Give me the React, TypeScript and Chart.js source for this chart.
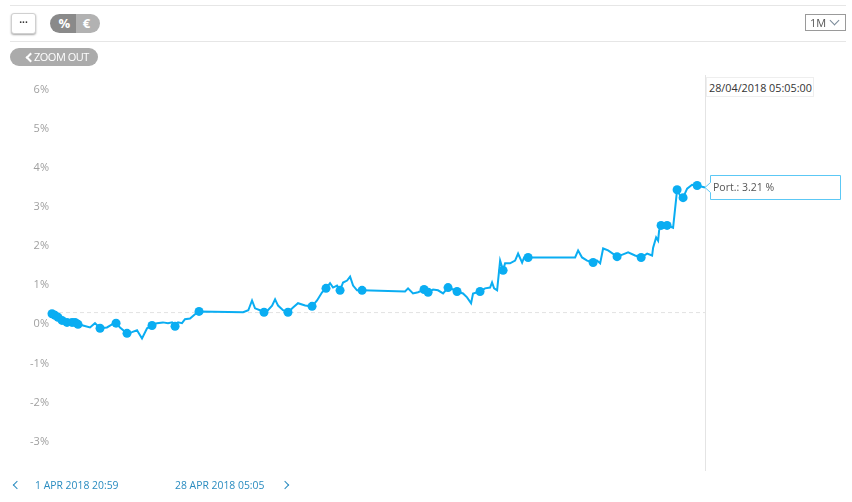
import React, { useEffect, useRef } from "react";
import { Chart, registerables } from "chart.js";

Chart.register(...registerables);

// hours since 1 Apr 2018 20:59
const hours = [
  0, 2.9, 5.8, 9.7, 14.5, 19.4, 22.3, 25.2, 30, 36.8, 41.6, 46.5, 53.2, 58.1, 62, 65.8, 72.6, 77.4, 82.3, 87.1,
  92, 96.8, 101.6, 107.4, 112.3, 116.2, 119.1, 122, 125.8, 128.7, 133.6, 138.4, 142.3, 185, 190, 193.6, 196.5,
  201.3, 205.2, 209, 213, 215.9, 218.8, 223.6, 228.4, 233.3, 238.1, 245, 251.7, 256.5, 261.4, 265.2, 269.1, 272,
  275.9, 278.8, 281.7, 285.6, 288.5, 291.4, 295.2, 300.1, 341.7, 344.6, 349.4, 354.3, 360.1, 364, 368.8, 373.6,
  378.5, 383.3, 388.2, 392, 397.8, 401.7, 405.6, 407.5, 414.3, 419.1, 424, 425.9, 427.9, 430.8, 433.7, 436.6,
  438.5, 443.3, 448.2, 451.1, 455, 456.9, 460.8, 503.4, 506.3, 509.2, 513, 517.9, 523.7, 527.6, 530.5, 533.4,
  538.2, 546.9, 552.7, 557.6, 564.3, 570.2, 576, 580.8, 581.8, 584.7, 586.6, 587.6, 589.5, 595.3, 601.1, 605,
  607.9, 610.8, 614.7, 619.5, 624.4, 632,
];

// portfolio performance, %
const values = [
  0.27, 0.23, 0.18, 0.1, 0.05, 0.05, 0.05, 0.0, -0.03, -0.08, 0.03, -0.1, -0.08, 0.0, 0.03, -0.08, -0.23, -0.2,
  -0.15, -0.36, -0.1, -0.03, 0.03, 0.05, 0.03, 0.05, -0.05, 0.05, 0.03, 0.13, 0.15, 0.26, 0.33, 0.31, 0.36, 0.61,
  0.41, 0.36, 0.31, 0.36, 0.48, 0.64, 0.48, 0.36, 0.31, 0.43, 0.54, 0.48, 0.46, 0.61, 0.82, 0.92, 1.05, 0.94,
  0.99, 0.87, 1.07, 1.12, 1.22, 0.99, 0.87, 0.87, 0.84, 0.92, 0.79, 0.82, 0.89, 0.82, 0.89, 0.87, 0.79, 0.94,
  0.89, 0.84, 0.79, 0.69, 0.54, 0.79, 0.84, 0.92, 0.94, 1.07, 0.92, 0.87, 1.63, 1.38, 1.56, 1.56, 1.63, 1.81,
  1.58, 1.71, 1.71, 1.71, 1.71, 1.89, 1.71, 1.63, 1.58, 1.63, 1.56, 1.94, 1.89, 1.73, 1.79, 1.84, 1.76, 1.71,
  1.81, 1.76, 1.96, 2.22, 2.14, 2.4, 2.53, 2.53, 2.47, 3.44, 3.29, 3.24, 3.47, 3.57, 3.55, 3.5,
];

// 1 = transaction marker on this point
const markers = [
  1, 1, 1, 1, 1, 1, 1, 1, 0, 0, 0, 1, 0, 0, 1, 0, 1, 0, 0, 0, 0, 1, 0, 0, 0, 0, 1, 0, 0, 0, 0, 0, 1, 0, 0, 0, 0,
  0, 1, 0, 0, 0, 0, 0, 1, 0, 0, 0, 1, 0, 0, 1, 0, 0, 0, 1, 0, 0, 0, 0, 0, 1, 0, 0, 0, 0, 1, 1, 0, 0, 0, 1, 0, 1,
  0, 0, 0, 0, 1, 0, 0, 0, 0, 0, 0, 1, 0, 0, 0, 0, 0, 0, 1, 0, 0, 0, 0, 0, 1, 0, 0, 0, 0, 1, 0, 0, 0, 1, 0, 0, 0,
  0, 0, 0, 1, 1, 0, 1, 0, 1, 0, 0, 1, 0,
];

const yTickValues = [-3, -2, -1, 0, 1, 2, 3, 4, 5, 6];
const baselineValue = 0.3;
const xMin = 0;
const xMax = 632;
const yMin = -3.75;
const yMax = 6.35;

const tooltipText = "Port.: 3.21 %";
const crosshairDate = "28/04/2018 05:05:00";
const startLabel = "1 APR 2018 20:59";
const endLabel = "28 APR 2018 05:05";

const LINE = "#0aadf2";
const FONT = "'Open Sans', 'Noto Sans', sans-serif";

export default function App() {
  const ref = useRef<HTMLCanvasElement>(null);

  useEffect(() => {
    const canvas = ref.current;
    if (!canvas) return;
    const points = hours.map((h, i) => ({ x: h, y: values[i] }));
    const overlay = {
      id: "overlay",
      beforeDatasetsDraw(chart: any) {
        const { ctx, chartArea, scales } = chart;
        const x = Math.round(scales.x.getPixelForValue(xMax)) + 0.5;
        ctx.save();
        ctx.strokeStyle = "#e4e4e4";
        ctx.lineWidth = 1;
        ctx.beginPath();
        ctx.moveTo(x, chartArea.top - 1);
        ctx.lineTo(x, chartArea.bottom);
        ctx.stroke();
        ctx.restore();
      },
      afterDraw(chart: any) {
        const { ctx, scales } = chart;
        const x = scales.x.getPixelForValue(xMax);
        const y = Math.round(scales.y.getPixelForValue(values[values.length - 1])) + 0.5;
        const top = y - 12;
        const bottom = y + 12;
        const left = Math.round(x + 5) + 0.5;
        const right = 840.5;
        ctx.save();
        ctx.fillStyle = "#ffffff";
        ctx.strokeStyle = "#5cc8f5";
        ctx.lineWidth = 1;
        ctx.beginPath();
        ctx.moveTo(x, y);
        ctx.lineTo(left, y - 5);
        ctx.lineTo(left, top);
        ctx.lineTo(right, top);
        ctx.lineTo(right, bottom);
        ctx.lineTo(left, bottom);
        ctx.lineTo(left, y + 5);
        ctx.closePath();
        ctx.fill();
        ctx.stroke();
        ctx.restore();
      },
    };
    const chart = new Chart(canvas, {
      type: "line",
      data: {
        datasets: [
          {
            data: points,
            borderColor: LINE,
            backgroundColor: LINE,
            borderWidth: 2,
            pointRadius: markers.map((m) => (m ? 4.5 : 0)),
            pointBorderWidth: 0,
            pointHoverRadius: 0,
            tension: 0,
            clip: false,
            order: 1,
          },
          {
            data: [
              { x: xMin, y: baselineValue },
              { x: xMax, y: baselineValue },
            ],
            borderColor: "#e2e2e2",
            borderWidth: 1,
            borderDash: [4, 3],
            pointRadius: 0,
            order: 2,
          },
        ],
      },
      options: {
        responsive: false,
        animation: false,
        events: [],
        layout: { padding: { left: 0, right: 147, top: 76, bottom: 31 } },
        plugins: { legend: { display: false }, tooltip: { enabled: false } },
        scales: {
          x: { type: "linear", display: false, min: xMin, max: xMax },
          y: {
            min: yMin,
            max: yMax,
            border: { display: false },
            grid: { display: false, drawTicks: false },
            afterBuildTicks: (scale: any) => {
              scale.ticks = yTickValues.map((v) => ({ value: v }));
            },
            afterFit: (scale: any) => {
              scale.width = 52;
            },
            ticks: {
              padding: 3,
              color: "#a0a0a0",
              font: { family: FONT, size: 11 },
              callback: (v: any) => `${v}%`,
            },
          },
        },
      },
      plugins: [overlay],
    });
    return () => chart.destroy();
  }, []);

  const hr = (top: number) => (
    <div style={{ position: "absolute", left: 10, top, width: 836, height: 1, background: "#e6e6e6" }} />
  );

  return (
    <div
      style={{
        position: "absolute",
        left: 0,
        top: 0,
        width: 852,
        height: 502,
        background: "#fff",
        fontFamily: FONT,
        overflow: "hidden",
      }}
    >
      <canvas ref={ref} width={852} height={502} style={{ position: "absolute", left: 0, top: 0, width: 852, height: 502 }} />
      {hr(5)}
      {hr(41)}
      <div
        style={{
          position: "absolute",
          left: 11,
          top: 13,
          width: 23,
          height: 19,
          border: "1px solid #d0d0d0",
          borderRadius: 3,
          boxShadow: "0 1px 2px rgba(0,0,0,0.35)",
          fontSize: 10,
          fontWeight: 700,
          lineHeight: "16px",
          textAlign: "center",
          color: "#333",
          background: "#fff",
        }}
      >
        ···
      </div>
      <div
        style={{
          position: "absolute",
          left: 50,
          top: 14,
          width: 50,
          height: 19,
          borderRadius: 10,
          overflow: "hidden",
          display: "flex",
          color: "#fff",
          fontWeight: 700,
          fontSize: 13,
          lineHeight: "19px",
        }}
      >
        <div style={{ width: 26, background: "#8a8a8a", textAlign: "center", paddingLeft: 3 }}>%</div>
        <div style={{ width: 24, background: "#b2b2b2", textAlign: "center", paddingRight: 3 }}>€</div>
      </div>
      <div
        style={{
          position: "absolute",
          left: 805,
          top: 14,
          width: 39,
          height: 15,
          border: "1px solid #9a9a9a",
          fontSize: 11,
          lineHeight: "15px",
          color: "#555",
        }}
      >
        <span style={{ position: "absolute", left: 4, top: 0 }}>1M</span>
        <span
          style={{
            position: "absolute",
            left: 25,
            top: 2,
            width: 6,
            height: 6,
            borderRight: "1.5px solid #7a8a99",
            borderBottom: "1.5px solid #7a8a99",
            transform: "rotate(45deg)",
          }}
        />
      </div>
      <div
        style={{
          position: "absolute",
          left: 10,
          top: 48,
          width: 88,
          height: 18,
          borderRadius: 9,
          background: "#ababab",
          color: "#fff",
          fontSize: 11,
          lineHeight: "18px",
          letterSpacing: -0.5,
        }}
      >
        <span
          style={{
            position: "absolute",
            left: 17,
            top: 6,
            width: 5,
            height: 5,
            borderLeft: "2px solid #fff",
            borderBottom: "2px solid #fff",
            transform: "rotate(45deg)",
          }}
        />
        <span style={{ position: "absolute", left: 24, top: 0 }}>ZOOM OUT</span>
      </div>
      <div
        style={{
          position: "absolute",
          left: 706,
          top: 77,
          width: 108,
          height: 20,
          border: "1px solid #eeeeee",
          background: "#fff",
          fontSize: 10.8,
          lineHeight: "20px",
          color: "#333",
          paddingLeft: 2,
          boxSizing: "border-box",
          whiteSpace: "nowrap",
        }}
      >
        {crosshairDate}
      </div>
      <div
        style={{
          position: "absolute",
          left: 713,
          top: 178,
          fontSize: 10.5,
          lineHeight: "18px",
          color: "#555",
          whiteSpace: "nowrap",
        }}
      >
        {tooltipText}
      </div>
      <span
        style={{
          position: "absolute",
          left: 14,
          top: 482,
          width: 5,
          height: 5,
          borderLeft: "1.5px solid #2a8cc0",
          borderBottom: "1.5px solid #2a8cc0",
          transform: "rotate(45deg)",
        }}
      />
      <div style={{ position: "absolute", left: 35, top: 477, fontSize: 10.4, lineHeight: "16px", color: "#2a8cc0", whiteSpace: "nowrap" }}>
        {startLabel}
      </div>
      <div style={{ position: "absolute", left: 175, top: 477, fontSize: 10.4, lineHeight: "16px", color: "#2a8cc0", whiteSpace: "nowrap" }}>
        {endLabel}
      </div>
      <span
        style={{
          position: "absolute",
          left: 282,
          top: 482,
          width: 5,
          height: 5,
          borderRight: "1.5px solid #2a8cc0",
          borderTop: "1.5px solid #2a8cc0",
          transform: "rotate(45deg)",
        }}
      />
    </div>
  );
}
